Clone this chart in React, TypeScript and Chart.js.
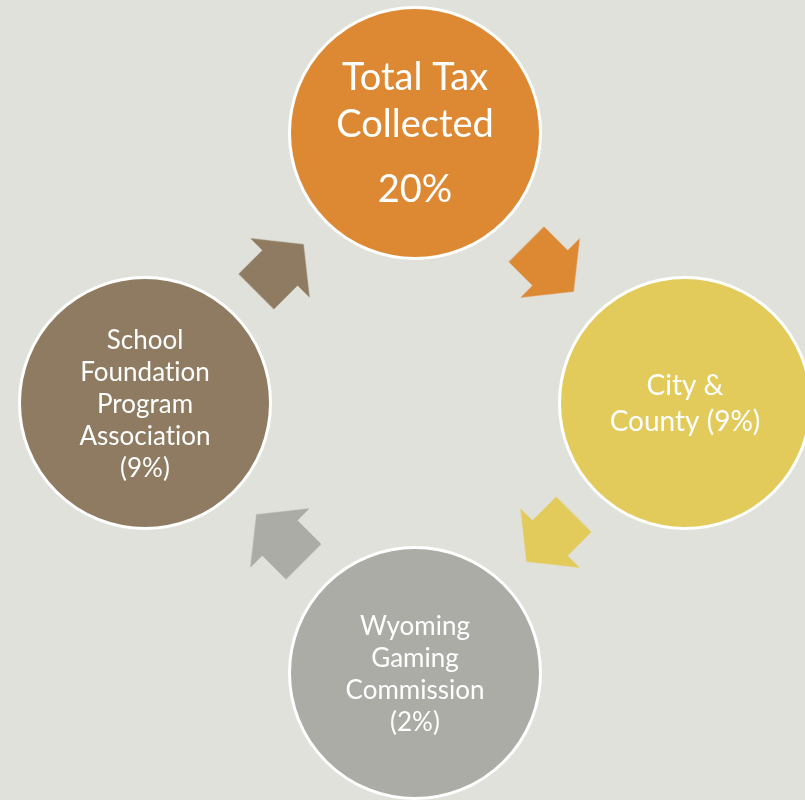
import React, { useEffect, useRef } from "react";
import { Chart, registerables } from "chart.js";

Chart.register(...registerables);

// ---- data ----
const NODE_NAMES = [
  "Total Tax Collected",
  "City & County",
  "Wyoming Gaming Commission",
  "School Foundation Program Association",
];
const NODE_SHARES = [20, 9, 2, 9];
// displayed text: paragraphs of lines per node
const NODE_LINES: string[][][] = [
  [["Total Tax", "Collected"], ["20%"]],
  [["City &", "County (9%)"]],
  [["Wyoming", "Gaming", "Commission", "(2%)"]],
  [["School", "Foundation", "Program", "Association", "(9%)"]],
];
const NODE_COLORS = ["#DD8833", "#E3CB5B", "#ACACA7", "#8F7B61"];
const ARROW_COLORS = ["#DD8833", "#E3CB5B", "#ACACA7", "#8F7B61"];

// ---- layout / style ----
const W = 805;
const H = 800;
const BG = "#E1E1DC";
const CX = 415;
const CY = 403;
const RING = 270;
const ARROW_RING = 191;
const NODE_R = 125.5;
const FONT = "Lato, 'Open Sans', sans-serif";
const NODE_FONT_SIZE = [38, 28, 26, 26];
const NODE_LINE_H = [47, 36, 32, 32];
const NODE_TEXT_SHIFT = [1, 1, 2, 2];
const PARA_GAP = 18;

const nodeAngle = (i: number) => -90 + (360 / NODE_NAMES.length) * i;
const arrowAngle = (i: number) => nodeAngle(i) + 180 / NODE_NAMES.length;
const rad = (d: number) => (d * Math.PI) / 180;
// break the "ti" ligature of Lato (zero-width non-joiner), display only
const noLig = (s: string) => s.replace(/ti/g, "t\u200Ci");

function makeArrow(color: string): HTMLCanvasElement {
  const c = document.createElement("canvas");
  c.width = 96;
  c.height = 96;
  const g = c.getContext("2d")!;
  g.translate(48, 48);
  g.beginPath();
  g.moveTo(-33.5, -25);
  g.lineTo(0, -25);
  g.lineTo(0, -42);
  g.lineTo(33.5, 0);
  g.lineTo(0, 42);
  g.lineTo(0, 25);
  g.lineTo(-33.5, 25);
  g.closePath();
  g.fillStyle = color;
  g.fill();
  return c;
}

const bgPlugin = {
  id: "bgFill",
  beforeDraw(chart: any) {
    const ctx = chart.ctx;
    ctx.save();
    ctx.fillStyle = BG;
    ctx.fillRect(0, 0, chart.width, chart.height);
    ctx.restore();
  },
};

const labelPlugin = {
  id: "nodeLabels",
  afterDatasetsDraw(chart: any) {
    const meta = chart.getDatasetMeta(1);
    const ctx = chart.ctx;
    meta.data.forEach((pt: any, i: number) => {
      const paras = NODE_LINES[i];
      const fs = NODE_FONT_SIZE[i];
      const lh = NODE_LINE_H[i];
      const nLines = paras.reduce((s, p) => s + p.length, 0);
      const total = nLines * lh + (paras.length - 1) * PARA_GAP;
      let y = pt.y - total / 2 + lh / 2 + NODE_TEXT_SHIFT[i];
      ctx.save();
      ctx.fillStyle = "#FFFFFF";
      ctx.font = `${fs}px ${FONT}`;
      ctx.textAlign = "center";
      ctx.textBaseline = "middle";
      paras.forEach((p) => {
        p.forEach((line) => {
          ctx.fillText(noLig(line), pt.x, y);
          y += lh;
        });
        y += PARA_GAP;
      });
      ctx.restore();
    });
  },
};

export default function App() {
  const ref = useRef<HTMLCanvasElement | null>(null);

  useEffect(() => {
    document.body.style.margin = "0";
    document.body.style.background = BG;
    const nodes = NODE_NAMES.map((name, i) => ({
      x: CX + RING * Math.cos(rad(nodeAngle(i))),
      y: CY + RING * Math.sin(rad(nodeAngle(i))),
      name,
      share: NODE_SHARES[i],
    }));
    const arrows = NODE_NAMES.map((_, i) => ({
      x: CX + ARROW_RING * Math.cos(rad(arrowAngle(i))),
      y: CY + ARROW_RING * Math.sin(rad(arrowAngle(i))),
    }));
    const chart = new Chart(ref.current!, {
      type: "scatter",
      data: {
        datasets: [
          {
            label: "flow",
            data: arrows,
            pointStyle: ARROW_COLORS.map(makeArrow) as any,
            pointRotation: NODE_NAMES.map((_, i) => arrowAngle(i) + 90),
            pointRadius: 40,
            clip: false,
            order: 2,
          } as any,
          {
            label: "nodes",
            data: nodes,
            pointStyle: "circle",
            pointRadius: NODE_R,
            pointBackgroundColor: NODE_COLORS,
            pointBorderColor: "#FFFFFF",
            pointBorderWidth: 3,
            clip: false,
            order: 1,
          } as any,
        ],
      },
      options: {
        responsive: false,
        maintainAspectRatio: false,
        devicePixelRatio: 1,
        animation: false,
        events: [],
        layout: { padding: 0, autoPadding: false },
        plugins: {
          legend: { display: false },
          tooltip: { enabled: false },
          title: { display: false },
        },
        scales: {
          x: { type: "linear", min: 0, max: W, display: false },
          y: { type: "linear", min: 0, max: H, reverse: true, display: false },
        },
      },
      plugins: [bgPlugin, labelPlugin],
    });
    return () => chart.destroy();
  }, []);

  return (
    <div style={{ width: W, height: H, background: BG, overflow: "hidden" }}>
      <canvas ref={ref} width={W} height={H} style={{ display: "block" }} />
    </div>
  );
}
